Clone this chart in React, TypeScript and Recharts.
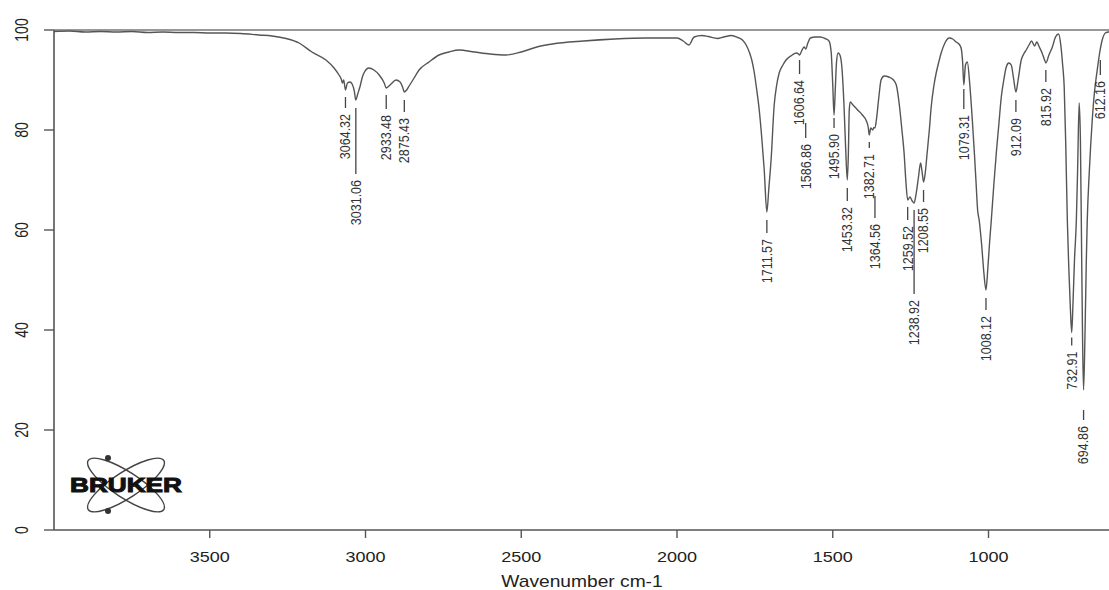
import React from 'react';
import { ComposedChart, Line, Scatter, XAxis, YAxis, ReferenceLine, Label } from 'recharts';

// spectrum, wavenumber (cm-1) descending
const wavenumbers = [
  4000, 3950, 3900, 3850, 3800, 3750, 3700, 3650, 3600, 3550, 3500, 3450, 3400, 3342, 3300, 3255, 3213, 3172, 3127, 3101,
  3085, 3078, 3074, 3070, 3064.32, 3058, 3050, 3043, 3036, 3031.06, 3025, 3018, 3010, 3005, 2989, 2973, 2956, 2940, 2933.48, 2925,
  2918, 2902, 2889, 2880, 2875.43, 2868, 2860, 2844, 2828, 2796, 2764, 2732, 2700, 2650, 2600, 2550, 2500, 2450, 2400, 2300,
  2200, 2100, 2000, 1980, 1962, 1945, 1920, 1900, 1870, 1850, 1825, 1805, 1790, 1778, 1768, 1760, 1752, 1744, 1736, 1728,
  1720, 1711.57, 1705, 1698, 1688, 1680, 1672, 1660, 1650, 1630, 1617, 1610, 1606.64, 1600, 1592, 1586.86, 1580, 1572, 1555, 1540,
  1525, 1512, 1505, 1500, 1495.9, 1492, 1488, 1483, 1477, 1470, 1464, 1459, 1453.32, 1450, 1447, 1444, 1435, 1420, 1405, 1392,
  1386, 1382.71, 1378, 1372, 1368, 1364.56, 1360, 1352, 1345, 1335, 1320, 1305, 1296, 1287, 1278, 1271, 1265, 1259.52, 1252, 1245,
  1238.92, 1232, 1225, 1218, 1213, 1208.55, 1203, 1197, 1190, 1184, 1176, 1168, 1160, 1152, 1140, 1126, 1115, 1104, 1095, 1088,
  1083, 1079.31, 1074, 1068, 1060, 1052, 1045, 1040, 1035, 1030, 1022, 1015, 1008.12, 1002, 996, 991, 983, 975, 967, 959,
  951, 943, 935, 927, 920, 912.09, 905, 895, 887, 879, 870, 862, 852, 845, 837, 828, 820, 815.92, 806, 795,
  785, 775, 768, 762, 757, 752, 747, 742, 737, 732.91, 729, 724, 718, 714, 709, 705, 701, 698, 694.86, 690,
  686, 683, 677, 672, 667, 660, 651, 643, 635, 625, 615, 610,
];
const transmittance = [
  99.7, 99.8, 99.6, 99.7, 99.6, 99.7, 99.5, 99.6, 99.5, 99.5, 99.4, 99.4, 99.3, 99.0, 98.8, 98.3, 97.4, 95.6, 94.0, 92.4,
  91.0, 90.2, 89.4, 90.0, 88.0, 89.4, 89.6, 89.2, 87.8, 86.0, 87.2, 88.6, 90.6, 91.4, 92.4, 92.0, 91.0, 89.4, 88.4, 88.8,
  89.2, 90.0, 89.6, 88.4, 87.6, 88.0, 88.8, 90.4, 92.0, 93.6, 95.0, 95.6, 96.0, 95.6, 95.2, 95.0, 95.6, 96.6, 97.2, 97.8,
  98.2, 98.4, 98.4, 97.8, 97.0, 98.6, 98.9, 98.7, 98.3, 98.6, 98.9, 98.5, 98.0, 97.0, 95.6, 94.0, 91.5, 88.0, 84.0, 78.5,
  72.0, 63.6, 68.5, 74.0, 85.0, 89.0, 91.4, 93.0, 94.0, 95.0, 95.4, 95.2, 95.0, 95.8, 96.6, 96.2, 97.4, 98.4, 98.6, 98.6,
  98.3, 97.8, 95.5, 89.0, 83.0, 88.0, 93.5, 95.4, 95.0, 92.0, 85.0, 77.0, 70.0, 75.0, 84.0, 85.6, 85.0, 84.0, 83.0, 81.8,
  80.5, 79.0, 80.4, 80.0, 80.5, 80.4, 82.0, 86.6, 90.0, 90.8, 90.6, 90.0, 89.0, 85.4, 80.0, 75.4, 69.5, 66.0, 66.6, 65.8,
  65.4, 67.4, 70.5, 73.4, 71.5, 69.6, 71.5, 75.4, 80.0, 84.6, 88.6, 91.4, 93.5, 95.4, 97.4, 98.4, 98.2, 97.6, 97.2, 96.4,
  93.5, 89.0, 93.0, 93.6, 89.0, 82.0, 75.0, 69.5, 64.0, 62.0, 57.0, 51.5, 48.0, 52.5, 58.0, 62.0, 69.0, 75.4, 81.0, 86.6,
  90.0, 92.6, 93.4, 93.0, 90.5, 87.6, 90.0, 94.0, 95.2, 96.0, 97.0, 97.8, 96.8, 97.6, 96.6, 95.4, 94.0, 93.4, 95.0, 96.6,
  98.6, 99.2, 97.0, 93.0, 88.6, 77.0, 62.0, 52.0, 44.0, 39.5, 45.0, 54.0, 62.0, 72.0, 85.4, 78.0, 55.0, 38.0, 28.0, 40.0,
  54.0, 62.0, 71.0, 77.0, 82.0, 87.5, 92.0, 95.5, 98.0, 99.4, 99.6, 99.6,
];

const xTicks = [3500, 3000, 2500, 2000, 1500, 1000];
const yTicks = [0, 20, 40, 60, 80, 100];

// peak picks printed on the spectrum and the transmittance at each pick
const peakLabels = [
  '3064.32', '3031.06', '2933.48', '2875.43', '1711.57', '1606.64', '1586.86', '1495.90', '1453.32', '1382.71', '1364.56',
  '1259.52', '1238.92', '1208.55', '1079.31', '1008.12', '912.09', '815.92', '732.91', '694.86', '612.16',
];
const peakMinima = [88, 86, 88.4, 87.6, 63.6, 95, 96.2, 83, 70, 79, 80.4, 66, 65.4, 69.6, 89, 48, 87.6, 93.4, 39.5, 28, 99.4];

// label layout (px): gap under the peak before the leader, leader length, sideways nudge
const leaderGap = [7, 8, 7, 8, 8, 5, 74, 3, 8, 7, 68, 7, 7, 8, 4, 8, 8, 7, 5, 20, 27];
const leaderLen = [11, 66, 14, 12, 13, 14, 15, 10, 13, 6, 22, 13, 84, 12, 20, 12, 12, 12, 8, 10, 15];
const labelNudge = [0, 0, 0, 0, 0, 0, 0, 0, 0, 0, 0, 0, 0, 0, 0, 0, 0, 0, 0, 0, -9];

const spectrum = wavenumbers.map((wn, i) => ({ wn, t: transmittance[i] }));
const peaks = peakLabels.map((label, i) => ({
  wn: parseFloat(label),
  t: peakMinima[i],
  label,
  gap: leaderGap[i],
  len: leaderLen[i],
  dx: labelNudge[i],
}));

const FONT = '"Liberation Sans", Arial, sans-serif';
const INK = '#555';

const PeakLabel = (props: any) => {
  const { cx, cy, payload } = props;
  if (cx == null || cy == null) return null;
  const x = cx + payload.dx;
  const y0 = cy + payload.gap;
  const y1 = y0 + payload.len;
  const ty = y1 + 6;
  return (
    <g>
      <line x1={x} y1={y0} x2={x} y2={y1} stroke="#444" strokeWidth={1.3} />
      <text
        transform={`translate(${x},${ty}) scale(1.2,1) rotate(-90)`}
        textAnchor="end"
        dominantBaseline="central"
        fontSize={12.5}
        fontFamily={FONT}
        fill="#333"
      >
        {payload.label}
      </text>
    </g>
  );
};

const XTick = ({ x, y, payload }: any) => (
  <text transform={`translate(${x},${y + 22}) scale(1.2,1)`} textAnchor="middle" fontSize={15} fontFamily={FONT} fill="#222">
    {payload.value}
  </text>
);

const YTick = ({ x, y, payload }: any) => (
  <text
    transform={`translate(${x - 20},${y}) scale(1.25,1) rotate(-90)`}
    textAnchor="middle"
    dominantBaseline="central"
    fontSize={14}
    fontFamily={FONT}
    fill="#222"
  >
    {payload.value}
  </text>
);

const AxisTitle = ({ viewBox }: any) => {
  const { x, y, width } = viewBox;
  return (
    <text transform={`translate(${x + width / 2},${y + 57}) scale(1.2,1)`} textAnchor="middle" fontSize={16} fontFamily={FONT} fill="#222">
      Wavenumber cm-1
    </text>
  );
};

const BrukerLogo = () => (
  <svg width={300} height={590} style={{ position: 'absolute', left: 0, top: 0, pointerEvents: 'none' }}>
    <ellipse cx={126} cy={485} rx={45} ry={13} transform="rotate(33 126 485)" fill="none" stroke="#444" strokeWidth={1.4} />
    <ellipse cx={126} cy={485} rx={45} ry={13} transform="rotate(-33 126 485)" fill="none" stroke="#444" strokeWidth={1.4} />
    <circle cx={108} cy={458} r={3} fill="#333" />
    <circle cx={108} cy={511} r={3} fill="#333" />
    <text
      x={70}
      y={492}
      fontSize={20}
      fontWeight={700}
      fontFamily={FONT}
      fill="#111"
      stroke="#111"
      strokeWidth={1}
      textLength={112}
      lengthAdjust="spacingAndGlyphs"
    >
      BRUKER
    </text>
  </svg>
);

export default function App() {
  return (
    <div style={{ position: 'absolute', left: 0, top: 0, width: 1109, height: 590, overflow: 'hidden', background: '#fff' }}>
      <ComposedChart width={1112} height={590} margin={{ top: 30, right: 2, bottom: 10, left: 0 }}>
        <XAxis
          type="number"
          dataKey="wn"
          domain={[610, 4000]}
          reversed
          allowDataOverflow
          ticks={xTicks}
          tick={<XTick />}
          tickSize={8}
          height={50}
          axisLine={{ stroke: INK, strokeWidth: 1.6 }}
          tickLine={{ stroke: INK, strokeWidth: 1.4 }}
        >
          <Label content={<AxisTitle />} />
        </XAxis>
        <YAxis
          type="number"
          domain={[0, 100]}
          ticks={yTicks}
          tick={<YTick />}
          tickSize={10}
          width={54}
          allowDataOverflow
          axisLine={{ stroke: INK, strokeWidth: 1.6 }}
          tickLine={{ stroke: INK, strokeWidth: 1.4 }}
        />
        <ReferenceLine y={100} stroke="#777" strokeWidth={1.4} />
        <Line data={spectrum} dataKey="t" type="monotone" stroke="#555" strokeWidth={1.4} dot={false} isAnimationActive={false} />
        <Scatter data={peaks} dataKey="t" shape={<PeakLabel />} isAnimationActive={false} />
      </ComposedChart>
      <BrukerLogo />
    </div>
  );
}
